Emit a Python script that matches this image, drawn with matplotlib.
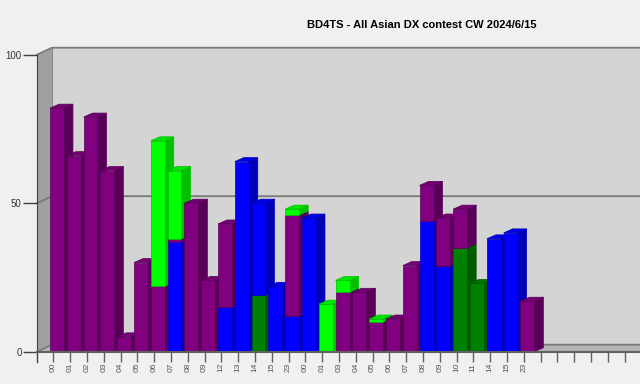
import matplotlib
matplotlib.use('Agg')
import matplotlib.pyplot as plt
from matplotlib.patches import Polygon

plt.rcParams['font.family'] = ['Liberation Sans', 'DejaVu Sans']

# Data (QSOs per hour, by band colour)
labels = ['00', '01', '02', '03', '04', '05', '06', '07', '08', '09', '12', '13', '14', '15', '23',
          '00', '01', '03', '04', '05', '06', '07', '08', '09', '10', '11', '14', '15', '23',
          '', '', '', '', '', '']
dkgreen = [0, 0, 0, 0, 0, 0, 0, 0, 0, 0, 0, 0, 19, 0, 0,
           0, 0, 0, 0, 0, 0, 0, 0, 0, 35, 23, 0, 0, 0]
blue = [0, 0, 0, 0, 0, 0, 0, 37, 0, 0, 15, 64, 31, 22, 12,
        45, 0, 0, 0, 0, 0, 0, 44, 29, 0, 0, 38, 40, 0]
purple = [82, 66, 79, 61, 5, 30, 22, 1, 50, 24, 28, 0, 0, 0, 34,
          0, 0, 20, 20, 10, 11, 29, 12, 16, 13, 0, 0, 0, 17]
green = [0, 0, 0, 0, 0, 0, 49, 23, 0, 0, 0, 0, 0, 0, 2,
         0, 16, 4, 0, 1, 0, 0, 0, 0, 0, 0, 0, 0, 0]

series = [(dkgreen, '#008000', '#005a00', '#007400'),
          (blue, '#0000ff', '#0000b8', '#0000e6'),
          (purple, '#800080', '#580058', '#740074'),
          (green, '#00ff00', '#00c000', '#00e600')]

# 3D look (in data units)
WX, WY = 0.89, 2.36     # wall depth
BX, BY = 0.54, 1.35     # bar depth
BOFF, BW = -0.2, 0.83   # bar front offset / width
X0, X1 = -0.97, 34.92

fig = plt.figure(figsize=(6.4, 3.84), dpi=100, facecolor='#f0f0f0')
ax = fig.add_axes([37/640, 1 - 351.7/384, 1 - 37/640, (351.7 - 54.7)/384])
ax.set_xlim(X0, X1)
ax.set_ylim(0, 100)
ax.patch.set_visible(False)

# walls
ax.add_patch(Polygon([(X0 + WX, WY), (X1 + 2, WY), (X1 + 2, 100 + WY), (X0 + WX, 100 + WY)],
                     closed=True, fc='#d4d4d4', ec='none', zorder=0, clip_on=False))
ax.add_patch(Polygon([(X0, 0), (X0 + WX, WY), (X0 + WX, 100 + WY), (X0, 100)],
                     closed=True, fc='#a0a0a0', ec='none', zorder=0, clip_on=False))
ax.add_patch(Polygon([(X0, 0), (X0 + WX, WY), (X1 + 2, WY), (X1 + 2, 0)],
                     closed=True, fc='#b4b4b4', ec='none', zorder=0, clip_on=False))
for v in [0, 50, 100]:
    ax.plot([X0, X0 + WX, X1 + 2], [v, v + WY, v + WY], color='#7a7a7a', lw=1.3,
            zorder=1, clip_on=False)
ax.plot([X0 + WX, X0 + WX], [WY, 100 + WY], color='#8a8a8a', lw=0.8, zorder=1, clip_on=False)

# bars
for i in range(len(purple)):
    x0 = i + BOFF
    base = 0
    top_col = None
    for vals, fc, sc, tc in series:
        h = vals[i]
        if h <= 0:
            continue
        z = 2 + i
        ax.add_patch(Polygon([(x0, base), (x0 + BW, base), (x0 + BW, base + h), (x0, base + h)],
                             closed=True, fc=fc, ec=sc, lw=0.5, zorder=z + 0.2, clip_on=False))
        ax.add_patch(Polygon([(x0 + BW, base), (x0 + BW + BX, base + BY),
                              (x0 + BW + BX, base + h + BY), (x0 + BW, base + h)],
                             closed=True, fc=sc, ec=sc, lw=0.5, zorder=z + 0.1, clip_on=False))
        base += h
        top_col = (tc, sc)
    if top_col:
        ax.add_patch(Polygon([(x0, base), (x0 + BW, base), (x0 + BW + BX, base + BY), (x0 + BX, base + BY)],
                             closed=True, fc=top_col[0], ec=top_col[1], lw=0.5, zorder=2 + i + 0.3,
                             clip_on=False))

# axes
for s in ['top', 'right']:
    ax.spines[s].set_visible(False)
ax.spines['left'].set_color('#404040')
ax.spines['bottom'].set_color('#606060')
ax.spines['bottom'].set_linewidth(1.5)
ax.spines['left'].set_zorder(50)
ax.spines['bottom'].set_zorder(50)
ax.plot([X0, X0], [0, -3.4], color='#404040', lw=1, clip_on=False, zorder=50)

ax.set_yticks([0, 50, 100])
ax.set_yticklabels(['0', '50', '100'], fontsize=7, color='#333333')
ax.tick_params(axis='y', length=10, width=1, color='#404040', pad=1)
ax.set_xticks(range(len(labels)))
ax.set_xticklabels(labels, rotation=90, fontsize=6, color='#555555')
ax.tick_params(axis='x', length=7, width=1, color='#606060', pad=1)

fig.text(422/640, 1 - 24.5/384, 'BD4TS - All Asian DX contest CW 2024/6/15',
         ha='center', va='center', fontsize=8, fontweight='bold')

fig.savefig('out.png', dpi=100, facecolor=fig.get_facecolor())
